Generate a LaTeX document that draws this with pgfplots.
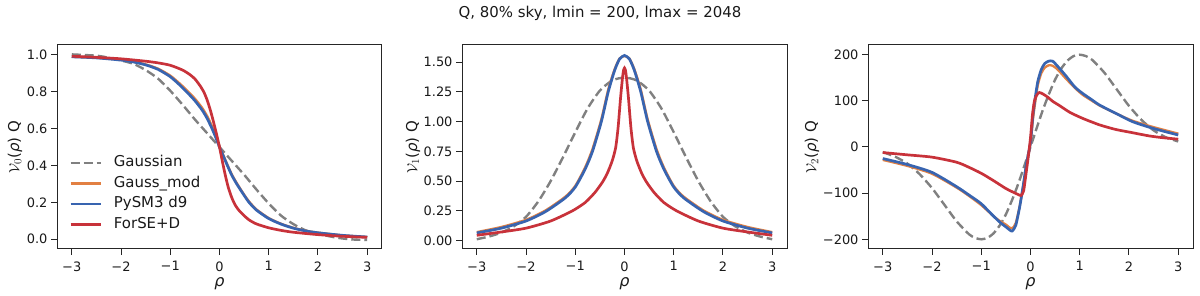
\documentclass[border=0pt]{standalone}
\usepackage{fontspec}
\setmainfont{DejaVu Sans}
\usepackage{pgfplots}
\pgfplotsset{compat=1.18}
\definecolor{cgray}{RGB}{128,128,128}
\definecolor{corange}{RGB}{226,128,66}
\definecolor{cblue}{RGB}{56,100,176}
\definecolor{cred}{RGB}{200,50,58}
\pgfplotsset{
  mystyle/.style={
    scale only axis, width=325bp, height=204bp,
    xmin=-3.3, xmax=3.3,
    axis line style={line width=1bp, black!85},
    tick style={line width=1bp, black!85},
    tick align=outside, xtick pos=bottom, ytick pos=left,
    major tick length=6bp,
    xtick={-3,-2,-1,0,1,2,3},
    xticklabels={−3,−2,−1,0,1,2,3},
    ticklabel style={font=\fontsize{13}{15}\selectfont, text=black!90},
    xticklabel style={yshift=-3bp},
    xlabel={\textit{ρ}},
    xlabel style={font=\fontsize{16}{18}\selectfont, text=black!90, at={(axis description cs:0.5,0)}, anchor=center, inner sep=0pt, yshift=-35bp},
    ylabel style={font=\fontsize{15}{18}\selectfont, text=black!90, anchor=center},
    clip=true,
    every axis plot/.append style={smooth, tension=0.4},
  },
  sgray/.style={cgray, line width=2.4bp, dash pattern=on 9bp off 4bp},
  sorange/.style={corange, line width=2.3bp},
  sblue/.style={cblue, line width=2.7bp},
  sred/.style={cred, line width=2.7bp},
}
\begin{document}
\begin{tikzpicture}
\path[use as bounding box] (0bp,0bp) rectangle (1200bp,296bp);
\node[font=\fontsize{15}{18}\selectfont, text=black!90] at (600bp,283bp) {Q, 80\% sky, lmin = 200, lmax = 2048};

% Panel 1
\begin{axis}[mystyle, at={(57bp,47bp)}, anchor=south west,
  ymin=-0.053, ymax=1.054,
  ytick={0,0.2,0.4,0.6,0.8,1.0},
  yticklabels={0.0,0.2,0.4,0.6,0.8,1.0},
  ylabel={$\mathcal{V}_0$(\textit{ρ}) Q},
  ylabel style={at={(axis description cs:-0.129,0.5)}},
  legend cell align=left,
  legend image code/.code={\draw[#1, sharp plot] (0bp,0bp) -- (30bp,0bp);},
  legend style={draw=none, fill=none, at={(axis description cs:0,0)}, anchor=south west,
    xshift=12bp, yshift=16bp, font=\fontsize{15}{18}\selectfont, text=black!90,
    inner sep=0pt, row sep=4bp, nodes={inner sep=1bp, text height=11bp, text depth=3.5bp},
    /tikz/every odd column/.append style={column sep=11bp}},
]
\addplot[sgray] coordinates {(-3,1.003)(-2.5,0.996)(-2.25,0.985)(-2,0.97)(-1.75,0.952)(-1.5,0.918)(-1.25,0.872)(-1,0.806)(-0.75,0.73)(-0.5,0.65)(-0.25,0.575)(0,0.5)(0.25,0.425)(0.5,0.35)(0.75,0.27)(1,0.194)(1.25,0.128)(1.5,0.082)(1.75,0.048)(2,0.03)(2.25,0.015)(2.5,0.004)(2.75,-0.002)(3,-0.004)};
\addlegendentry{Gaussian}
\addplot[sorange] coordinates {(-3,0.99)(-2.5,0.985)(-2,0.974)(-1.75,0.964)(-1.5,0.949)(-1.25,0.926)(-1,0.888)(-0.8,0.843)(-0.65,0.805)(-0.5,0.763)(-0.35,0.712)(-0.25,0.668)(-0.16,0.618)(-0.08,0.565)(0,0.505)(0.08,0.455)(0.16,0.405)(0.25,0.352)(0.35,0.305)(0.5,0.242)(0.6,0.205)(0.75,0.162)(1,0.115)(1.25,0.084)(1.5,0.062)(1.75,0.046)(2,0.036)(2.5,0.021)(3,0.012)};
\addlegendentry{Gauss\_mod}
\addplot[sblue] coordinates {(-3,0.99)(-2.5,0.984)(-2,0.972)(-1.75,0.962)(-1.5,0.946)(-1.25,0.922)(-1,0.882)(-0.8,0.835)(-0.65,0.795)(-0.5,0.752)(-0.35,0.70)(-0.25,0.655)(-0.16,0.605)(-0.08,0.555)(0,0.5)(0.08,0.45)(0.16,0.40)(0.25,0.347)(0.35,0.30)(0.5,0.238)(0.6,0.2)(0.75,0.158)(1,0.112)(1.25,0.082)(1.5,0.06)(1.75,0.045)(2,0.035)(2.5,0.021)(3,0.012)};
\addlegendentry{PySM3 d9}
\addplot[sred] coordinates {(-3,0.993)(-2.5,0.987)(-2,0.979)(-1.5,0.966)(-1.25,0.957)(-1,0.944)(-0.75,0.918)(-0.6,0.893)(-0.5,0.87)(-0.4,0.835)(-0.32,0.80)(-0.25,0.755)(-0.18,0.695)(-0.12,0.635)(-0.06,0.57)(0,0.5)(0.06,0.42)(0.12,0.345)(0.18,0.28)(0.25,0.225)(0.32,0.185)(0.4,0.155)(0.5,0.128)(0.6,0.105)(0.75,0.083)(1,0.062)(1.25,0.048)(1.5,0.038)(2,0.025)(2.5,0.016)(3,0.01)};
\addlegendentry{ForSE+D}
\end{axis}

% Panel 2
\begin{axis}[mystyle, at={(462bp,47bp)}, anchor=south west,
  ymin=-0.07, ymax=1.643,
  ytick={0,0.25,0.5,0.75,1.0,1.25,1.5},
  yticklabels={0.00,0.25,0.50,0.75,1.00,1.25,1.50},
  ylabel={$\mathcal{V}_1$(\textit{ρ}) Q},
  ylabel style={at={(axis description cs:-0.151,0.5)}},
]
\addplot[sgray] coordinates {(-3,0.012)(-2.75,0.035)(-2.5,0.068)(-2.25,0.12)(-2,0.2)(-1.75,0.33)(-1.5,0.5)(-1.25,0.7)(-1,0.91)(-0.75,1.11)(-0.5,1.26)(-0.25,1.345)(0,1.37)(0.25,1.345)(0.5,1.26)(0.75,1.11)(1,0.91)(1.25,0.7)(1.5,0.5)(1.75,0.33)(2,0.2)(2.25,0.12)(2.5,0.068)(2.75,0.035)(3,0.012)};
\addplot[sorange] coordinates {(-3,0.072)(-2.5,0.115)(-2,0.175)(-1.6,0.255)(-1.2,0.37)(-1,0.46)(-0.8,0.615)(-0.65,0.77)(-0.47,1.02)(-0.33,1.27)(-0.2,1.44)(-0.1,1.53)(0,1.55)(0.1,1.53)(0.2,1.44)(0.33,1.27)(0.47,1.02)(0.65,0.77)(0.8,0.615)(1,0.46)(1.2,0.37)(1.6,0.255)(2,0.175)(2.5,0.115)(3,0.072)};
\addplot[sblue] coordinates {(-3,0.065)(-2.5,0.105)(-2,0.165)(-1.6,0.245)(-1.2,0.36)(-1,0.45)(-0.8,0.6)(-0.65,0.75)(-0.47,1.0)(-0.33,1.25)(-0.2,1.43)(-0.1,1.525)(0,1.555)(0.1,1.525)(0.2,1.43)(0.33,1.25)(0.47,1.0)(0.65,0.75)(0.8,0.6)(1,0.45)(1.2,0.36)(1.6,0.245)(2,0.165)(2.5,0.105)(3,0.065)};
\addplot[sred] coordinates {(-3,0.045)(-2.5,0.073)(-2,0.105)(-1.5,0.165)(-1.06,0.25)(-0.8,0.32)(-0.6,0.405)(-0.45,0.49)(-0.35,0.565)(-0.25,0.67)(-0.18,0.78)(-0.13,0.95)(-0.08,1.2)(-0.04,1.37)(-0.02,1.43)(0,1.45)(0.02,1.43)(0.04,1.37)(0.08,1.2)(0.13,0.95)(0.18,0.78)(0.25,0.67)(0.35,0.565)(0.45,0.49)(0.6,0.405)(0.8,0.32)(1.06,0.25)(1.5,0.165)(2,0.105)(2.5,0.073)(3,0.045)};
\end{axis}

% Panel 3
\begin{axis}[mystyle, at={(868bp,47bp)}, anchor=south west,
  ymin=-221, ymax=221,
  ytick={-200,-100,0,100,200},
  yticklabels={−200,−100,0,100,200},
  ylabel={$\mathcal{V}_2$(\textit{ρ}) Q},
  ylabel style={at={(axis description cs:-0.172,0.5)}},
]
\addplot[sgray] coordinates {(-3,-11)(-2.75,-21)(-2.5,-36)(-2.25,-59)(-2,-89)(-1.75,-125)(-1.5,-161)(-1.25,-189)(-1.125,-197)(-1,-200)(-0.875,-197)(-0.75,-187)(-0.625,-170)(-0.5,-146)(-0.375,-115)(-0.25,-80)(-0.125,-41)(0,0)(0.125,41)(0.25,80)(0.375,115)(0.5,146)(0.625,170)(0.75,187)(0.875,197)(1,200)(1.125,197)(1.25,189)(1.5,161)(1.75,125)(2,89)(2.25,59)(2.5,36)(2.75,21)(3,12)};
\addplot[sorange] coordinates {(-3,-28)(-2.5,-41)(-2,-58)(-1.5,-88)(-1.25,-106)(-1,-126)(-0.75,-150)(-0.6,-162)(-0.5,-168)(-0.42,-175)(-0.37,-176)(-0.3,-165)(-0.22,-128)(-0.15,-85)(-0.08,-38)(0,8)(0.05,60)(0.1,100)(0.15,135)(0.22,160)(0.29,172)(0.37,177)(0.45,176)(0.55,168)(0.72,148)(0.9,128)(1.06,113)(1.25,100)(1.4,90)(1.75,72)(2.07,57)(2.5,43)(3,29)};
\addplot[sblue] coordinates {(-3,-25)(-2.5,-38)(-2,-55)(-1.5,-86)(-1.25,-104)(-1,-123)(-0.75,-150)(-0.6,-165)(-0.5,-173)(-0.42,-180)(-0.37,-182)(-0.3,-170)(-0.22,-130)(-0.15,-85)(-0.08,-35)(0,10)(0.05,70)(0.1,110)(0.15,143)(0.22,168)(0.29,181)(0.37,186)(0.45,186)(0.55,175)(0.72,154)(0.9,130)(1.06,116)(1.25,102)(1.4,91)(1.75,72)(2.07,55)(2.5,40)(3,26)};
\addplot[sred] coordinates {(-3,-12)(-2.5,-17)(-2,-22)(-1.5,-33)(-1.25,-44)(-1,-57)(-0.75,-73)(-0.5,-90)(-0.35,-98)(-0.25,-103)(-0.19,-105)(-0.14,-95)(-0.1,-65)(-0.05,-25)(0,20)(0.04,70)(0.08,100)(0.13,113)(0.18,118)(0.25,115)(0.35,108)(0.45,99)(0.6,89)(0.8,75)(1.06,62)(1.4,48)(1.73,38)(2.07,31)(2.41,24)(2.7,20)(3,17)};
\end{axis}
\end{tikzpicture}
\end{document}
